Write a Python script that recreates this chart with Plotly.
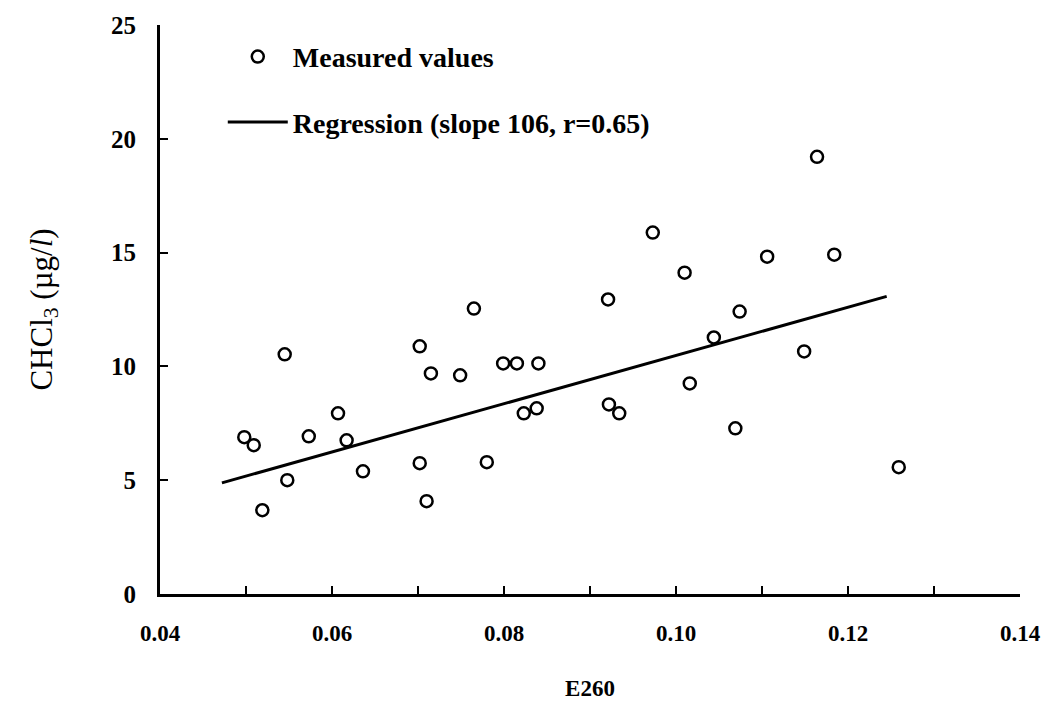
import plotly.graph_objects as go

# Measured values: absorbance at 260 nm vs. chloroform concentration
e260 = [0.0498, 0.0509, 0.0519, 0.0545, 0.0548, 0.0573, 0.0607, 0.0617, 0.0636,
        0.0702, 0.0702, 0.0710, 0.0715, 0.0749, 0.0765, 0.0780, 0.0799, 0.0815,
        0.0823, 0.0838, 0.0840, 0.0921, 0.0922, 0.0934, 0.0973, 0.1010, 0.1016,
        0.1044, 0.1069, 0.1074, 0.1106, 0.1149, 0.1164, 0.1184, 0.1259]
chcl3 = [6.89, 6.54, 3.68, 10.53, 5.00, 6.93, 7.94, 6.75, 5.39,
         10.88, 5.75, 4.08, 9.69, 9.61, 12.54, 5.79, 10.13, 10.13,
         7.94, 8.16, 10.13, 12.94, 8.33, 7.94, 15.88, 14.12, 9.25,
         11.27, 7.28, 12.41, 14.82, 10.66, 19.21, 14.91, 5.57]

# Regression line
slope = 106
intercept = -0.12
fit_x = [0.0472, 0.1245]
fit_y = [slope * x + intercept for x in fit_x]

x_ticks = [0.04, 0.06, 0.08, 0.10, 0.12, 0.14]
x_ticklabels = ["0.04", "0.06", "0.08", "0.10", "0.12", "0.14"]
y_ticks = [0, 5, 10, 15, 20, 25]

serif = "Liberation Serif"

fig = go.Figure()
fig.add_trace(go.Scatter(
    x=e260, y=chcl3, mode="markers", name="Measured values",
    legendgroup="a",
    marker=dict(symbol="circle-open", size=12, color="black", line=dict(width=2.5, color="black")),
))
fig.add_trace(go.Scatter(
    x=fit_x, y=fit_y, mode="lines", name="Regression (slope 106, r=0.65)",
    legendgroup="b",
    line=dict(color="black", width=3),
))

fig.update_layout(
    width=1058, height=718,
    margin=dict(l=160, r=38, t=25, b=124),
    paper_bgcolor="white", plot_bgcolor="white",
    font=dict(family=serif, color="black", size=20),
    showlegend=True,
    legend=dict(
        x=0.073, y=0.988, xanchor="left", yanchor="top",
        bgcolor="rgba(0,0,0,0)", borderwidth=0,
        font=dict(family=serif, size=28, color="black", weight="bold"),
        traceorder="grouped", tracegroupgap=26,
        itemwidth=60,
    ),
    xaxis=dict(
        range=[0.04, 0.14], tickvals=x_ticks, ticktext=x_ticklabels,
        showgrid=False, zeroline=False,
        showline=True, linecolor="black", linewidth=3,
        ticks="inside", ticklen=8, tickwidth=2, tickcolor="black",
        minor=dict(ticks="inside", ticklen=8, tickwidth=2, tickcolor="black", dtick=0.01),
        ticklabelstandoff=16,
        tickfont=dict(family=serif, size=23, color="black", weight="bold"),
        title=dict(text="E260", font=dict(family=serif, size=23, color="black", weight="bold"), standoff=36),
    ),
    yaxis=dict(
        range=[0, 25], tickvals=y_ticks,
        showgrid=False, zeroline=False,
        showline=True, linecolor="black", linewidth=3,
        ticks="inside", ticklen=8, tickwidth=2, tickcolor="black",
        ticklabelstandoff=16,
        tickfont=dict(family=serif, size=25, color="black", weight="bold"),
        title=dict(text="CHCl<sub>3</sub> (µg/<i>l</i>)", font=dict(family=serif, size=31, color="black"), standoff=50),
    ),
)

fig.write_html("out.html")
